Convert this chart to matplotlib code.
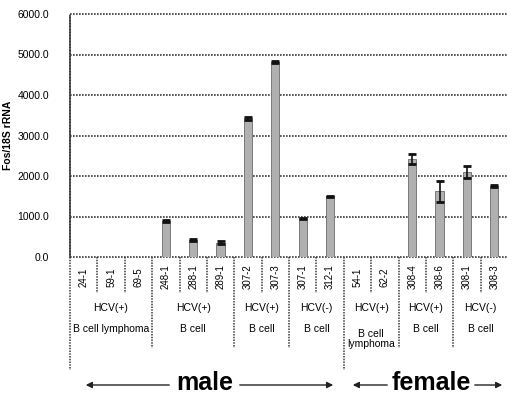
import matplotlib
matplotlib.use("Agg")
import matplotlib.pyplot as plt
import numpy as np

plt.rcParams['font.family'] = ['Liberation Sans', 'DejaVu Sans']

samples = ["24-1", "59-1", "69-5", "248-1", "288-1", "289-1", "307-2", "307-3",
           "307-1", "312-1", "54-1", "62-2", "308-4", "308-6", "308-1", "308-3"]
values = [0, 0, 0, 890, 430, 350, 3420, 4820, 950, 1500, 0, 0, 2420, 1620, 2100, 1750]
errors = [0, 0, 0, 20, 25, 40, 30, 20, 15, 15, 0, 0, 130, 250, 140, 20]

# groups: (start index, count, hcv label, cell label)
group_start = [0, 3, 6, 8, 10, 12, 14]
group_size = [3, 3, 2, 2, 2, 2, 2]
group_hcv = ["HCV(+)", "HCV(+)", "HCV(+)", "HCV(-)", "HCV(+)", "HCV(+)", "HCV(-)"]
group_cell = ["B cell lymphoma", "B cell", "B cell", "B cell", "B cell\nlymphoma", "B cell", "B cell"]
sex_labels = ["male", "female"]
sex_split = 10

W, H = 507, 398
fig = plt.figure(figsize=(W / 100, H / 100), dpi=100)
ax_left, ax_right, ax_top, ax_bot = 70, 508, 14, 257
ax = fig.add_axes([ax_left / W, 1 - ax_bot / H, (ax_right - ax_left) / W, (ax_bot - ax_top) / H])

n = len(samples)
x = np.arange(n) + 0.5
dot = (0, (1, 0.8))
gcol = '#3a3a3a'

ax.bar(x, values, width=0.3, color='#b0b0b0', edgecolor='#7a7a7a', linewidth=0.7, zorder=3)
xe = [xi for xi, e in zip(x, errors) if e > 0]
ve = [v for v, e in zip(values, errors) if e > 0]
ee = [e for e in errors if e > 0]
ax.errorbar(xe, ve, yerr=ee, fmt='none', ecolor='#111111', elinewidth=1.2, capsize=3,
            capthick=2, zorder=4)

ax.set_xlim(0, n)
ax.set_ylim(0, 6000)
ax.set_yticks(np.arange(0, 6001, 1000))
ax.set_yticklabels([f"{v:.1f}" for v in np.arange(0, 6001, 1000)], fontsize=7.5)
ax.tick_params(axis='y', length=0, pad=15)
ax.set_xticks([])
for yv in np.arange(0, 6001, 1000):
    ax.axhline(yv, color=gcol, lw=1.2, ls=dot, zorder=1, clip_on=False)
for s in ['top', 'right', 'bottom']:
    ax.spines[s].set_visible(False)
ax.spines['left'].set_color(gcol)
ax.spines['left'].set_linestyle(dot)
ax.spines['left'].set_linewidth(1.2)

ax.set_ylabel("Fos/18S rRNA", fontsize=7.5, fontweight='bold', labelpad=4)
ax.yaxis.set_label_coords(-0.13, 0.5)

tr = ax.get_xaxis_transform()
hpx = ax_bot - ax_top
def fy(py):
    return (ax_bot - py) / hpx

# separators
group_bounds = set()
for gs, gz in zip(group_start, group_size):
    group_bounds.add(gs)
    group_bounds.add(gs + gz)
for b in range(n + 1):
    if b in (0, sex_split):
        y_end = fy(370)
    elif b in group_bounds:
        y_end = fy(348)
    else:
        y_end = fy(293)
    ax.plot([b, b], [0, y_end], transform=tr, color=gcol, lw=1.1, ls=dot, clip_on=False)

# sample labels
for xi, s in zip(x, samples):
    ax.text(xi, fy(277), s, rotation=90, ha='center', va='center', fontsize=7,
            transform=tr)

# group labels
for gs, gz, hl, cl in zip(group_start, group_size, group_hcv, group_cell):
    cx = gs + gz / 2
    ax.text(cx, fy(308), hl, ha='center', va='center', fontsize=7.5, transform=tr)
    ax.text(cx, fy(329), cl, ha='center', va='top' if '\n' in cl else 'center',
            fontsize=7.5, transform=tr, linespacing=1.0)

# sex labels with arrows (figure pixel coordinates)
def fx(px):
    return px / W
def fyf(py):
    return 1 - py / H

ya = 385
arrow_kw = dict(arrowstyle='-|>', color='#222222', lw=1.0, mutation_scale=9)
segs = [(172, 83), (237, 336), (390, 350), (472, 505)]
for x0, x1 in segs:
    fig.add_artist(matplotlib.patches.FancyArrowPatch((fx(x0), fyf(ya)), (fx(x1), fyf(ya)),
                                                      transform=fig.transFigure, **arrow_kw))
fig.text(fx(205), fyf(383), sex_labels[0], ha='center', va='center', fontsize=18,
         fontweight='bold')
fig.text(fx(431), fyf(383), sex_labels[1], ha='center', va='center', fontsize=18,
         fontweight='bold')

fig.savefig("out.png", dpi=100)
